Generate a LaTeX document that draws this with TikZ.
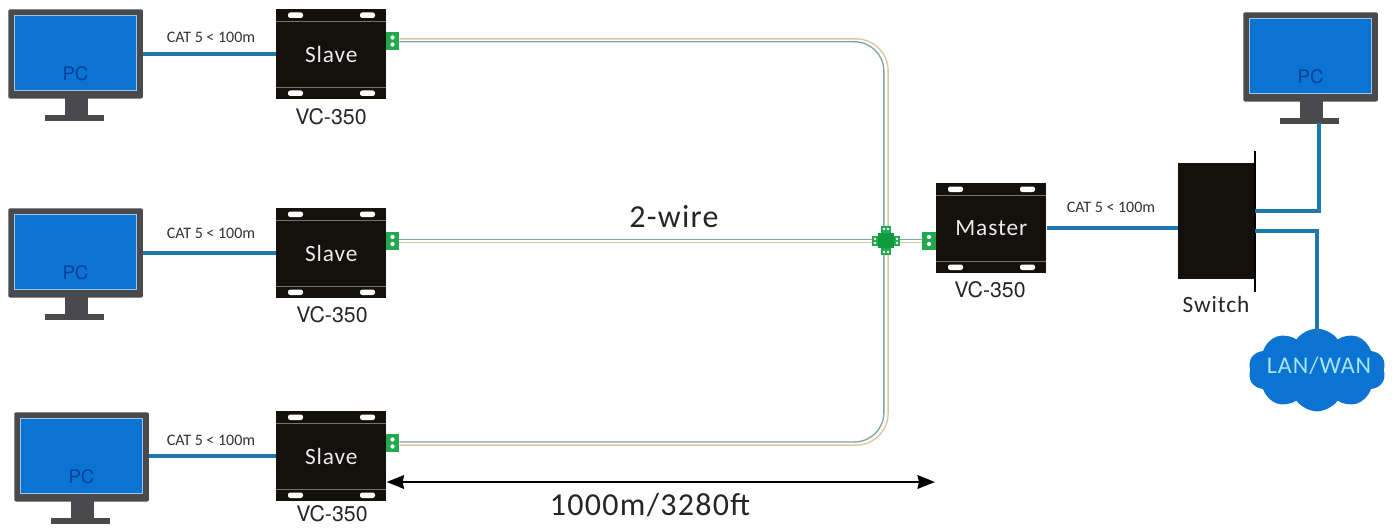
\documentclass[tikz,border=0pt]{standalone}
\usepackage{fontspec}
\setmainfont{TeX Gyre Heros}
\newfontfamily\arl{TeX Gyre Heros}
\newfontfamily\lbl[LetterSpace=4]{Carlito}
\newfontfamily\lblb{Carlito}
\usetikzlibrary{shapes.symbols,arrows.meta}
\definecolor{scr}{HTML}{0B74D2}
\definecolor{scrb}{HTML}{9CC6E4}
\definecolor{mon}{HTML}{4A4A4C}
\definecolor{cab}{HTML}{1F78AD}
\definecolor{blk}{HTML}{14100C}
\definecolor{grn}{HTML}{22A84F}
\definecolor{grnd}{HTML}{0E9A3E}
\definecolor{wtan}{HTML}{DCC79C}
\definecolor{wblue}{HTML}{7BA6B0}
\definecolor{pctxt}{HTML}{0A3F98}
\definecolor{ltxt}{HTML}{A8E4F4}
\tikzset{
  monitor/.style={fill=mon,rounded corners=1.5pt,minimum width=101pt,minimum height=67pt,inner sep=0,anchor=north west},
  screen/.style={fill=scr,draw=scrb,line width=.7pt,minimum width=92pt,minimum height=56pt,inner sep=0},
  pclbl/.style={text=pctxt,font=\arl\fontsize{14}{14}\selectfont},
  devbox/.style={fill=blk,minimum width=82.5pt,minimum height=67.5pt,inner sep=0,anchor=north west,text=white!92!black,font=\lbl\fontsize{17.5}{17.5}\selectfont},
  hole/.style={fill=white,rounded corners=1.7pt},
  cat/.style={draw=cab,line width=3pt},
  catlbl/.style={font=\lblb\fontsize{12}{12}\selectfont,text=black!80},
  vclbl/.style={font=\arl\fontsize{16}{16}\selectfont,text=black!85},
  plug/.style={fill=grn,minimum width=10pt,minimum height=13.5pt,inner sep=0},
  wiret/.style={draw=wtan,line width=1pt,rounded corners=24pt},
  wireb/.style={draw=wblue,line width=1pt,rounded corners=22pt},
  tall/.style={font=\lbl\fontsize{24}{24}\selectfont,text=black!85}
}
\newcommand{\pcunit}[3]{%
  \begin{scope}[shift={(#2,#3)}]
    \fill[mon] (65,98) rectangle (88,115);
    \fill[mon] (45,115) rectangle (104,121);
    \node[monitor] (#1) at (8,9) {};
    \node[screen] (#1s) at (75.5,53) {};
    \node[pclbl] (#1t) at (75.5,74) {PC};
  \end{scope}}
\newcommand{\device}[4]{%
  \begin{scope}[shift={(#2,#3)}]
    \node[devbox] (#1) at (276,9) {#4};
    \draw[black!55,line width=.5pt] (276,21) -- (386,21) (276,87) -- (386,87);
    \fill[hole] (288,12.5) rectangle (303,18);
    \fill[hole] (360,12.5) rectangle (375,18);
    \fill[hole] (288,90.5) rectangle (303,96);
    \fill[hole] (360,90.5) rectangle (375,96);
  \end{scope}}
\newcommand{\plugat}[3]{%
  \node[plug] (#1) at (#2,#3) {};
  \fill[white] (#2,#3-3.5) circle (1.6pt) (#2,#3+3.5) circle (1.6pt);}
\begin{document}
\begin{tikzpicture}[x=.75pt,y=-.75pt]
\useasboundingbox (0,0) rectangle (1399,528);
\fill[white] (0,0) rectangle (1399,528);

\plugat{p1}{392.5}{41}
\plugat{p2}{392.5}{240.5}
\plugat{p3}{392.5}{443}
\plugat{pm}{929}{240.5}
\node[inner sep=0,minimum width=7.5pt,minimum height=7.5pt,fill=grnd] (tee) at (886,240.5) {};
\draw[wiret] ([yshift=1.6pt]p1.east) -| ([xshift=1.6pt]tee.north);
\draw[wireb] ([yshift=-.6pt]p1.east) -| ([xshift=-1.6pt]tee.north);
\draw[wiret] ([yshift=-1.6pt]p3.east) -| ([xshift=1.6pt]tee.south);
\draw[wireb] ([yshift=.8pt]p3.east) -| ([xshift=-1.6pt]tee.south);
\draw[wireb] ([yshift=.6pt]p2.east) -- ([yshift=.6pt]tee.west);
\draw[wiret] ([yshift=-1.6pt]p2.east) -- ([yshift=-1.6pt]tee.west);
\draw[wiret] ([yshift=-1.6pt]tee.east) -- ([yshift=-1.6pt]pm.west);
\draw[wireb] ([yshift=.6pt]tee.east) -- ([yshift=.6pt]pm.west);
\fill[grn] (881,226) rectangle (891,255);
\fill[grn] (872,236) rectangle (900,246);
\fill[grnd] (878,233) -- (894,233) -- (894,248) -- (878,248) -- cycle;
\fill[white] (884,229) circle (1pt) (888,229) circle (1pt)
  (884,252) circle (1pt) (888,252) circle (1pt)
  (875,239) circle (1pt) (875,243) circle (1pt)
  (897,239) circle (1pt) (897,243) circle (1pt);

\pcunit{pca}{0}{0}
\pcunit{pcb}{0}{199}
\pcunit{pcc}{6}{403}
\pcunit{pcd}{1235}{3}

\device{sa}{0}{0}{Slave}
\device{sb}{0}{199}{Slave}
\device{sc}{0}{402}{Slave}
\device{ma}{660}{174}{Master}

\node[vclbl] (va) at (331,117) {VC-350};
\node[vclbl] (vb) at (332,315) {VC-350};
\node[vclbl] (vc) at (332,514) {VC-350};
\node[vclbl] (vm) at (990,290) {VC-350};

\draw[cat] (pca.east |- sa.west) -- (sa.west);
\draw[cat] (pcb.east |- sb.west) -- (sb.west);
\draw[cat] (pcc.east |- sc.west) -- (sc.west);
\node[catlbl] (ca) at (211,37) {CAT 5 < 100m};
\node[catlbl] (cb) at (211,233) {CAT 5 < 100m};
\node[catlbl] (cc) at (211,440) {CAT 5 < 100m};
\node[catlbl] (cm) at (1111,207) {CAT 5 < 100m};

\node[fill=blk,minimum width=57pt,minimum height=87pt,inner sep=0,anchor=north west] (sw) at (1178,163) {};
\draw[black,line width=.9pt] (1255,151) -- (1255,292);
\node[font=\lbl\fontsize{17.5}{17.5}\selectfont,text=black!85] (swl) at (1216,304) {Switch};
\draw[cat] (ma.east) -- (ma.east -| sw.west);

\node[cloud,cloud puffs=10,cloud puff arc=110,aspect=1.75,fill=scr,inner sep=0,minimum width=103pt,minimum height=62pt] (lan) at (1317,370) {};
\node[text=ltxt,font=\lbl\fontsize{18}{18}\selectfont] (lant) at (1319,366) {LAN/WAN};
\coordinate (swa) at (1255,211);
\coordinate (swb) at (1255,231);
\coordinate (pcin) at (1319,123);
\coordinate (lanin) at (1317,335);
\draw[cat] (swa) -| (pcin);
\draw[cat] (swb) -| (lanin);

\node[tall] (wl) at (674,217) {2-wire};
\draw[black,line width=2.2pt,{Stealth[length=13pt,width=10pt,inset=1pt]}-{Stealth[length=13pt,width=10pt,inset=1pt]}] (sc.east |- 0,482) coordinate (al) -- (935,482) coordinate (ar);
\node[font=\lbl\fontsize{24}{24}\selectfont,text=black!85] (dl) at (650,505) {1000m/3280ft};
\end{tikzpicture}
\end{document}
